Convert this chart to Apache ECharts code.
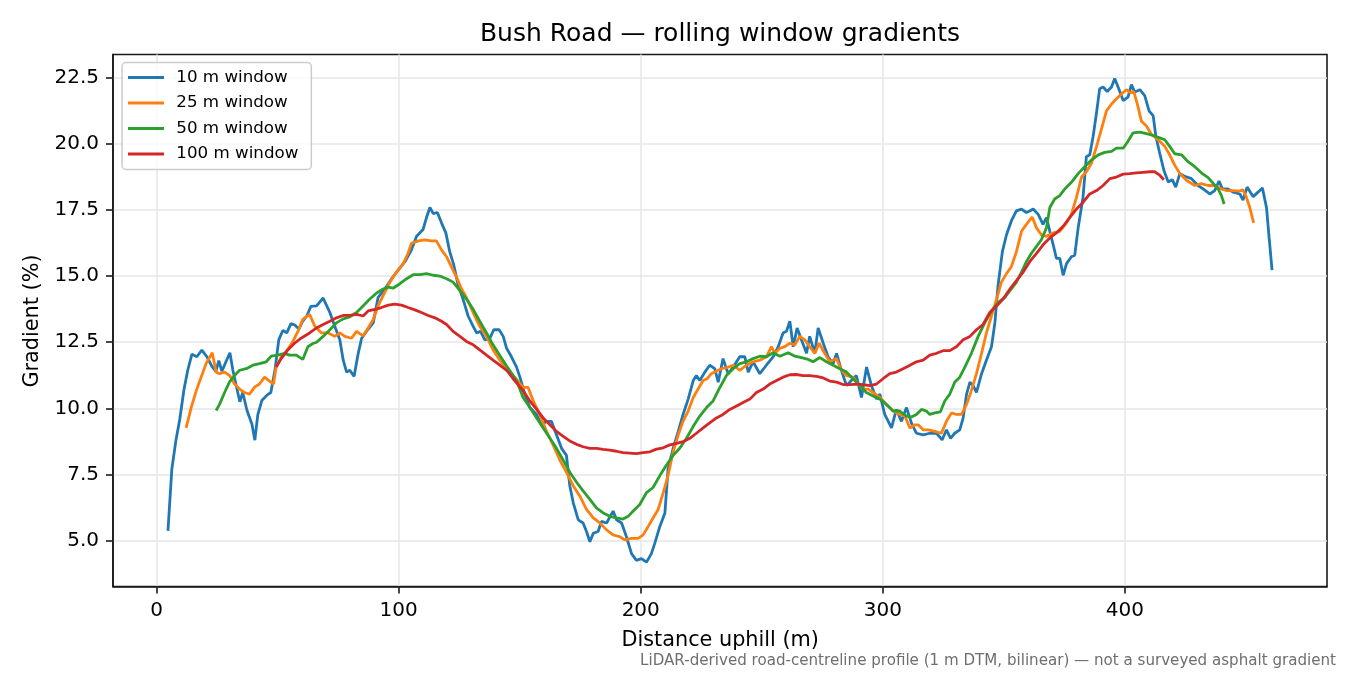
<!DOCTYPE html>
<html>
<head>
<meta charset="utf-8">
<script src="https://cdn.jsdelivr.net/npm/echarts@6/dist/echarts.min.js"></script>
<style>
html,body{margin:0;padding:0;background:#fff;}
#chart{width:1350px;height:675px;}
</style>
</head>
<body>
<div id="chart"></div>
<script>
// ---- data (distance uphill m, gradient %) ----
const seriesNames = ['10 m window', '25 m window', '50 m window', '100 m window'];
const seriesColors = ['#1f77b4', '#ff7f0e', '#2ca02c', '#d62728'];
const xTicks = [0, 100, 200, 300, 400];
const yTicks = [5, 7.5, 10, 12.5, 15, 17.5, 20, 22.5];

const win10 = [[4.7,5.37],[6.3,7.7],[8.0,8.8],[9.6,9.6],[11.3,10.7],[12.9,11.45],[14.6,12.05],[16.6,11.95],[18.7,12.2],[20.8,11.95],[22.8,11.6],[24.5,11.4],[25.7,11.8],[27.0,11.4],[28.6,11.75],[30.3,12.1],[31.5,11.45],[32.8,10.9],[34.4,10.25],[35.6,10.6],[37.3,9.94],[39.4,9.4],[40.6,8.8],[41.8,9.75],[43.5,10.3],[45.6,10.5],[47.2,10.6],[48.9,11.45],[50.5,12.6],[52.2,12.95],[53.8,12.85],[55.5,13.2],[57.1,13.15],[58.8,13.0],[60.4,13.3],[62.1,13.5],[63.7,13.85],
[66.1,13.87],[68.8,14.17],[71.6,13.62],[73.6,13.1],[75.7,12.59],[77.1,11.82],[78.5,11.37],[79.8,11.44],[81.6,11.21],[83.3,12.08],[84.7,12.65],[86.7,12.91],[89.5,13.23],[91.5,14.19],[94.3,14.51],[97.1,14.9],[99.8,15.22],[102.6,15.54],[105.3,15.99],[107.4,16.5],[110.1,16.76],[111.5,17.21],[112.9,17.59],[114.3,17.36],[116.0,17.4],[117.7,17.01],[119.5,16.63],[121.1,15.92],[122.8,15.41],[124.6,14.64],[126.6,14.13],[128.7,13.49],[130.8,13.1],[132.2,12.85],[133.8,12.91],[135.6,12.59],[137.7,12.65],[139.3,12.97],[141.5,12.97],[143.2,12.72],[144.6,12.27],[146.6,11.95],[148.7,11.56],
[150.1,11.18],[152.1,10.54],[154.2,10.03],[157.0,9.77],[159.0,9.38],[161.1,9.51],[163.1,9.51],[165.2,9.0],[167.3,8.49],[169.3,8.23],[170.7,7.08],[172.1,6.44],[174.2,5.79],[176.2,5.67],[177.6,5.35],[179.0,4.96],[180.4,5.28],[182.4,5.35],[183.8,5.73],[185.9,5.67],[188.6,6.12],[190.0,5.79],[192.1,5.67],[194.1,5.15],[196.2,4.51],[198.2,4.26],[200.3,4.32],[202.4,4.19],[204.4,4.51],[205.8,4.9],[207.9,5.54],[210.0,6.05],[211.3,7.72],[213.4,8.49],[215.5,9.13],[217.5,9.77],[219.6,10.35],[221.7,11.05],[223.0,11.24],[224.4,11.05],[226.5,11.37],[228.5,11.63],[230.6,11.5],[232.0,10.99],
[234.0,11.88],[236.1,11.31],[238.2,11.56],[240.9,11.95],[243.0,11.95],[244.4,11.37],[246.4,11.76],[249.2,11.31],[251.9,11.63],[254.7,11.95],[256.8,12.33],[258.8,12.85],[260.2,12.91],[261.6,13.29],[263.0,12.33],[264.6,13.04],[266.4,12.59],[268.5,12.08],[269.8,12.72],[271.9,12.08],[273.3,13.04],[275.4,12.46],[277.4,11.95],[279.5,11.69],[280.9,12.08],[282.9,11.44],[285.0,10.86],[287.0,11.05],[289.1,11.24],[291.2,10.41],[293.3,11.56],[295.3,10.86],[297.4,10.35],[298.8,10.54],[300.8,9.77],[303.6,9.26],[305.6,9.96],[307.7,9.51],[309.8,10.03],[311.8,9.45],
[313.9,9.06],[316.7,9.0],[319.4,9.06],[322.2,9.06],[324.5,8.81],[326.3,9.19],[328.0,8.87],[329.7,9.06],[331.8,9.19],[333.2,9.64],[334.6,10.54],[336.0,10.99],[337.3,10.86],[338.7,10.6],[340.8,11.31],[342.8,11.82],[344.9,12.33],[346.3,13.23],[347.6,14.64],[349.4,15.92],[351.1,16.56],[353.1,17.08],[355.2,17.46],[357.3,17.53],[359.3,17.4],[360.7,17.46],[362.1,17.53],[364.2,17.33],[366.2,16.95],[367.6,17.21],[369.0,16.69],[370.4,16.18],[371.7,15.67],[373.1,15.67],[374.5,15.03],[375.9,15.47],[377.9,15.73],[379.3,15.79],[380.7,16.82],[382.7,17.97],[384.1,19.51],[385.5,19.58],[386.9,20.28],[388.3,21.18],[389.6,22.08],[391.0,22.14],[392.7,21.97],[394.5,22.14],[395.8,22.46],
[397.2,22.14],[399.3,21.63],[401.3,21.76],[402.7,22.23],[404.1,21.95],[406.2,22.04],[408.2,21.82],[410.0,21.24],[411.7,21.05],[412.8,20.28],[414.4,19.64],[416.1,19.0],[417.9,18.55],[419.6,18.64],[421.0,18.36],[422.7,18.87],[424.7,18.77],[427.5,18.68],[430.2,18.42],[432.3,18.29],[435.1,18.1],[437.1,18.23],[438.9,18.59],[440.3,18.29],[442.6,18.29],[444.7,18.17],[447.5,18.1],[448.8,17.87],[450.5,18.36],[453.0,18.0],[455.0,18.17],[456.8,18.33],[458.5,17.59],[459.6,16.44],[460.8,15.22]];

const win25 = [[12.2,9.26],[14.3,10.03],[16.4,10.67],[18.4,11.18],[20.5,11.7],[23.0,12.1],[24.6,11.37],[26.0,11.31],[28.1,11.37],[30.2,11.24],[32.2,10.92],[34.3,10.73],[36.3,10.6],[38.4,10.54],[40.5,10.8],[42.5,10.92],[44.6,11.18],[46.4,11.05],[48.3,10.92],[49.4,11.56],[51.5,11.95],[53.5,12.14],[56.3,12.53],[58.4,12.91],[60.4,13.36],[63.2,13.55],[65.4,13.1],[68.1,12.85],[70.9,12.85],[73.6,12.72],[75.7,12.85],[77.8,12.72],[80.5,12.65],[82.6,12.91],[85.3,12.74],[87.4,13.04],[89.5,13.36],[91.5,13.87],[93.6,14.26],[96.4,14.77],[99.1,15.15],[101.9,15.47],[103.9,15.86],[105.3,16.24],[108.1,16.33],[110.8,16.37],[113.6,16.33],[115.6,16.33],[117.7,15.99],[119.8,15.73],[121.8,15.35],[123.9,14.96],[126.0,14.51],[128.0,14.19],[130.8,13.62],[133.5,13.1],[136.3,12.72],[139.0,12.21],[141.8,11.82],[144.6,11.5],[148.7,11.1],[151.4,10.79],[153.5,10.79],[155.6,10.28],[158.3,9.77],[161.1,9.13],[163.8,8.62],[166.6,8.04],[169.3,7.59],[172.1,7.08],[174.8,6.69],[177.6,6.18],[180.4,5.86],[183.1,5.67],[185.9,5.41],[188.6,5.22],[191.4,5.15],[193.4,5.03],[196.2,5.09],[198.9,5.09],[201.0,5.22],[203.1,5.54],[205.1,5.86],[207.2,6.18],[209.3,6.82],[211.3,7.46],[213.4,8.36],[215.5,9.0],[217.5,9.51],[219.6,9.9],[221.7,10.41],[223.7,10.73],[225.8,11.05],[227.4,11.12],[229.2,11.31],[231.3,11.41],[233.4,11.5],[236.1,11.56],[238.2,11.63],[240.9,11.44],[243.7,11.63],[246.4,11.76],[249.2,11.82],[251.9,11.95],[254.0,12.33],[255.4,12.08],[257.5,12.27],[259.5,12.33],[261.6,12.46],[263.7,12.4],[265.7,12.72],[267.8,12.59],[269.8,12.33],[271.9,12.08],[273.7,12.46],[276.0,12.08],[278.1,11.76],[280.9,11.88],[282.9,11.44],[285.0,11.24],[287.7,11.18],[289.8,10.92],[291.9,10.73],[293.9,10.73],[296.0,10.6],[298.8,10.41],[301.5,10.15],[304.3,9.9],[307.0,9.77],[309.1,9.71],[311.2,9.26],[313.2,9.38],[314.6,9.38],[316.7,9.19],[318.7,9.19],[321.5,9.13],[324.2,9.06],[326.3,9.51],[328.4,9.83],[330.4,9.77],[332.5,9.77],[334.6,10.15],[336.6,10.67],[338.7,11.31],[340.8,12.08],[342.8,12.85],[344.9,13.49],[347.0,14.13],[349.0,14.77],[351.1,15.09],[353.1,15.35],[355.2,15.92],[357.3,16.69],[359.3,16.95],[361.7,17.23],[363.5,16.82],[365.5,16.56],[367.6,16.5],[370.4,16.63],[373.1,16.69],[375.9,17.01],[377.9,17.33],[380.0,17.97],[382.1,18.74],[384.1,18.94],[386.2,19.26],[388.3,19.9],[390.3,20.54],[392.4,21.24],[394.5,21.5],[395.8,21.63],[398.6,21.88],[400.6,22.04],[402.3,21.92],[403.7,21.97],[405.5,21.37],[406.8,20.86],[408.9,20.67],[411.0,20.35],[413.7,20.15],[416.5,19.9],[418.5,19.58],[420.6,19.19],[422.7,18.87],[425.4,18.62],[428.9,18.42],[431.6,18.49],[434.4,18.42],[437.1,18.42],[439.9,18.29],[441.9,18.23],[444.7,18.23],[447.5,18.21],[448.8,18.26],[450.2,17.97],[451.6,17.59],[453.2,17.01]];

const win50 = [[24.6,9.92],[26.0,10.15],[28.1,10.6],[30.1,10.99],[32.2,11.24],[34.3,11.44],[37.0,11.5],[39.8,11.63],[42.5,11.69],[45.3,11.76],[47.3,11.97],[50.1,12.01],[52.9,12.08],[54.9,12.01],[57.7,12.01],[60.4,11.85],[62.5,12.33],[64.6,12.45],[66.1,12.5],[68.8,12.72],[71.6,12.97],[74.3,13.23],[77.1,13.38],[79.8,13.46],[82.6,13.62],[85.3,13.87],[88.1,14.13],[90.9,14.36],[93.6,14.51],[95.7,14.58],[97.7,14.54],[100.5,14.71],[103.3,14.9],[106.0,15.05],[108.8,15.05],[111.5,15.09],[114.3,15.03],[117.0,15.0],[119.8,14.9],[122.5,14.77],[125.3,14.45],[128.0,14.13],[130.8,13.74],[133.5,13.29],[136.3,12.85],[139.0,12.4],[141.8,12.0],[144.6,11.6],[148.7,11.05],[151.4,10.41],[154.2,10.03],[157.0,9.64],[159.7,9.26],[162.5,8.87],[165.2,8.49],[168.0,8.04],[170.7,7.59],[173.5,7.21],[176.2,6.88],[179.0,6.56],[181.7,6.24],[184.5,6.05],[187.2,5.92],[190.0,5.86],[192.7,5.82],[194.8,5.92],[196.9,6.12],[199.6,6.37],[202.4,6.82],[205.1,7.01],[207.9,7.46],[210.6,7.85],[213.4,8.23],[216.1,8.49],[218.9,8.87],[221.7,9.32],[224.4,9.71],[227.2,10.03],[229.9,10.28],[232.7,10.79],[235.4,11.24],[238.2,11.5],[240.9,11.69],[243.7,11.76],[246.4,11.88],[249.2,11.97],[251.9,11.95],[254.7,12.1],[257.5,11.97],[260.9,12.1],[263.7,11.97],[266.4,11.92],[269.2,11.85],[271.2,11.76],[274.0,11.92],[276.7,11.76],[279.5,11.63],[282.2,11.5],[285.0,11.37],[287.7,11.12],[290.5,10.86],[293.2,10.6],[296.0,10.47],[298.8,10.35],[301.5,10.15],[304.3,9.9],[307.0,9.9],[309.8,9.71],[311.8,9.67],[313.9,9.77],[316.0,9.96],[318.0,9.9],[319.4,9.77],[321.5,9.83],[323.8,9.87],[325.6,10.28],[327.7,10.54],[329.7,10.99],[331.8,11.18],[333.9,11.56],[336.6,12.08],[339.4,12.72],[342.1,13.23],[344.9,13.68],[347.6,14.0],[350.4,14.19],[353.1,14.51],[355.2,14.77],[357.3,15.15],[359.3,15.54],[361.4,15.86],[363.5,16.12],[365.5,16.37],[367.6,16.82],[369.0,17.59],[371.0,17.91],[373.1,18.04],[375.2,18.29],[378.0,18.55],[380.7,18.87],[383.4,19.13],[386.2,19.38],[389.0,19.58],[391.7,19.67],[394.5,19.71],[396.5,19.83],[399.3,19.83],[401.3,20.09],[403.4,20.41],[406.2,20.44],[408.9,20.38],[411.7,20.31],[414.4,20.22],[416.5,20.15],[418.5,19.9],[420.6,19.62],[423.4,19.58],[426.1,19.32],[428.9,19.13],[431.6,18.9],[434.4,18.72],[436.4,18.51],[438.5,18.29],[439.9,18.04],[441.0,17.72]];

const win100 = [[49.4,11.56],[51.5,11.88],[54.2,12.21],[57.0,12.46],[59.7,12.65],[63.2,12.85],[66.1,13.04],[68.8,13.17],[71.6,13.29],[74.3,13.42],[77.1,13.51],[79.8,13.51],[82.6,13.55],[85.3,13.49],[87.4,13.68],[90.2,13.74],[92.9,13.81],[95.7,13.9],[98.4,13.94],[101.2,13.9],[103.9,13.81],[106.7,13.72],[109.4,13.62],[112.2,13.51],[115.0,13.42],[117.7,13.29],[119.8,13.17],[122.5,12.91],[125.3,12.72],[128.0,12.53],[130.8,12.4],[133.5,12.21],[136.3,12.01],[139.0,11.82],[141.8,11.63],[144.6,11.44],[147.3,11.12],[151.4,10.67],[154.2,10.28],[157.0,9.96],[159.7,9.64],[162.5,9.38],[165.2,9.13],[168.0,8.94],[170.7,8.77],[173.5,8.64],[176.2,8.55],[179.0,8.49],[181.7,8.49],[184.5,8.45],[187.2,8.42],[190.0,8.38],[192.7,8.33],[195.5,8.31],[198.2,8.29],[201.0,8.33],[203.8,8.36],[206.5,8.46],[209.3,8.51],[212.0,8.62],[214.8,8.68],[217.5,8.74],[220.3,8.87],[223.0,9.06],[225.8,9.26],[228.5,9.45],[231.3,9.64],[234.0,9.77],[236.8,9.96],[239.6,10.09],[242.3,10.22],[245.1,10.35],[247.8,10.6],[250.6,10.73],[253.3,10.92],[256.1,11.05],[258.8,11.18],[261.6,11.27],[264.3,11.28],[267.1,11.24],[269.8,11.24],[272.6,11.21],[275.4,11.15],[278.1,11.03],[280.9,10.99],[283.6,10.9],[286.4,10.9],[289.1,10.92],[291.9,10.9],[294.6,10.86],[297.4,10.92],[300.1,11.12],[302.9,11.31],[305.6,11.37],[308.4,11.5],[311.2,11.63],[313.9,11.76],[316.7,11.82],[319.4,12.01],[322.2,12.08],[324.9,12.18],[327.7,12.18],[330.4,12.33],[333.2,12.59],[336.0,12.72],[338.7,12.97],[341.4,13.17],[344.2,13.62],[347.0,13.87],[349.7,14.13],[352.5,14.51],[355.2,14.83],[358.0,15.15],[360.7,15.54],[363.5,15.86],[366.2,16.18],[369.0,16.44],[371.7,16.63],[374.5,16.88],[377.2,17.21],[380.0,17.53],[382.7,17.78],[385.5,18.1],[388.3,18.23],[391.0,18.42],[393.8,18.68],[396.5,18.74],[399.3,18.85],[402.0,18.87],[404.8,18.9],[407.5,18.92],[410.3,18.94],[412.3,18.94],[414.4,18.81],[416.1,18.64]];

const seriesData = [win10, win25, win50, win100];

// ---- chart ----
const FONT = 'DejaVu Sans';
const chart = echarts.init(document.getElementById('chart'), null, {renderer: 'canvas'});
const option = {
  animation: false,
  backgroundColor: '#ffffff',
  grid: {
    left: 113, right: 23, top: 54.5, bottom: 88.5,
    containLabel: false, outerBoundsMode: 'none',
    show: true, borderColor: '#1a1a1a', borderWidth: 1.6, backgroundColor: 'transparent'
  },
  xAxis: {
    type: 'value', min: -18, max: 483.5,
    axisLine: {show: true, onZero: false, lineStyle: {color: '#1a1a1a', width: 1.6}},
    axisTick: {show: true, customValues: xTicks, length: 7, lineStyle: {color: '#1a1a1a', width: 1.6}},
    axisLabel: {customValues: xTicks, margin: 14, fontFamily: FONT, fontSize: 20, color: '#000',
      formatter: v => String(Math.round(v))},
    splitLine: {show: true, lineStyle: {color: '#e6e6e6', width: 1.5}}
  },
  yAxis: {
    type: 'value', min: 3.27, max: 23.37,
    axisLine: {show: true, onZero: false, lineStyle: {color: '#1a1a1a', width: 1.6}},
    axisTick: {show: true, customValues: yTicks, length: 7, lineStyle: {color: '#1a1a1a', width: 1.6}},
    axisLabel: {customValues: yTicks, margin: 14, fontFamily: FONT, fontSize: 20, color: '#000',
      formatter: v => v.toFixed(1)},
    splitLine: {show: true, lineStyle: {color: '#e6e6e6', width: 1.5}}
  },
  legend: {
    data: seriesNames,
    orient: 'vertical', left: 122, top: 62.5,
    padding: [6.5, 13, 7, 6],
    itemGap: 8.5, itemWidth: 43.3, itemHeight: 3,
    icon: 'path://M0,0H36V3H0Z M43.3,0V3',
    itemStyle: {borderWidth: 0},
    textStyle: {fontFamily: FONT, fontSize: 16.7, color: '#000'},
    backgroundColor: 'rgba(255,255,255,0.8)',
    borderColor: '#cccccc', borderWidth: 1.5, borderRadius: 4
  },
  graphic: [
    {type: 'text', x: 720, y: 34, style: {text: 'Bush Road — rolling window gradients', font: '25px "DejaVu Sans"', fill: '#000', textAlign: 'center', textVerticalAlign: 'middle'}},
    {type: 'text', x: 720.2, y: 641, style: {text: 'Distance uphill (m)', font: '20.8px "DejaVu Sans"', fill: '#000', textAlign: 'center', textVerticalAlign: 'middle'}},
    {type: 'text', x: 33, y: 321, rotation: Math.PI / 2, style: {text: 'Gradient (%)', font: '20.8px "DejaVu Sans"', fill: '#000', textAlign: 'center', textVerticalAlign: 'middle'}},
    {type: 'text', x: 1336, y: 661, style: {text: 'LiDAR-derived road-centreline profile (1 m DTM, bilinear) — not a surveyed asphalt gradient', font: '15.1px "DejaVu Sans"', fill: '#6e6e6e', textAlign: 'right', textVerticalAlign: 'middle'}}
  ],
  series: seriesNames.map((name, i) => ({
    name: name,
    type: 'line',
    data: seriesData[i],
    showSymbol: false,
    symbol: 'none',
    smooth: false,
    color: seriesColors[i],
    lineStyle: {color: seriesColors[i], width: 2.8},
    itemStyle: {color: seriesColors[i]},
    emphasis: {disabled: true},
    z: 2 + i
  }))
};
chart.setOption(option);
</script>
</body>
</html>
